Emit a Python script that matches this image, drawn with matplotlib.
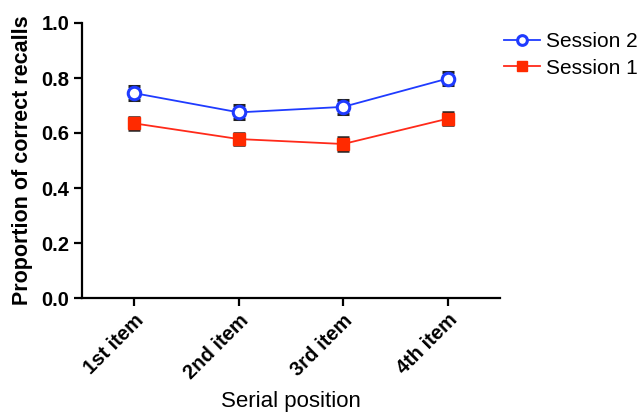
import matplotlib
matplotlib.use('Agg')
import matplotlib.pyplot as plt
import numpy as np

plt.rcParams['font.family'] = ['Liberation Sans', 'DejaVu Sans']

positions = ['1st item', '2nd item', '3rd item', '4th item']
session2 = [0.745, 0.675, 0.695, 0.798]
session2_err = [0.026, 0.025, 0.025, 0.025]
session1 = [0.635, 0.578, 0.560, 0.652]
session1_err = [0.024, 0.023, 0.024, 0.024]

fig = plt.figure(figsize=(6.44, 4.15), dpi=100)
ax = fig.add_axes([82 / 644, 117 / 415, 418 / 644, 275 / 415])

x = np.arange(len(positions))
ax.errorbar(x, session2, yerr=session2_err, color='#1f3bff', ecolor='#222222',
            elinewidth=1.5, capsize=4.5, capthick=1.8, marker='o', markersize=9,
            markerfacecolor='white', markeredgecolor='#1f3bff', markeredgewidth=2.2,
            linewidth=1.3, label='Session 2', zorder=3)
ax.errorbar(x, session1, yerr=session1_err, color='#ff2a1a', ecolor='#222222',
            elinewidth=1.5, capsize=4.5, capthick=1.8, marker='s', markersize=9,
            markerfacecolor='#ff2a00', markeredgecolor='#ff2a00',
            linewidth=1.3, label='Session 1', zorder=3)

ax.set_xlim(-0.5, 3.5)
ax.set_ylim(0, 1.0)
ax.set_yticks([0.0, 0.2, 0.4, 0.6, 0.8, 1.0])
ax.set_yticklabels(['0.0', '0.2', '0.4', '0.6', '0.8', '1.0'], fontweight='bold', fontsize=14.5)
ax.set_xticks(x)
ax.set_xticklabels(positions, rotation=45, ha='right', rotation_mode='anchor',
                   fontweight='bold', fontsize=14.5)
ax.spines['top'].set_visible(False)
ax.spines['right'].set_visible(False)
for s in ['left', 'bottom']:
    ax.spines[s].set_linewidth(1.6)
ax.tick_params(width=1.6, length=6, pad=3)
ax.set_xlabel('Serial position', fontsize=16, labelpad=6)
ax.set_ylabel('Proportion of correct recalls', fontweight='bold', fontsize=15.5, labelpad=6)

handles, labels = ax.get_legend_handles_labels()
leg = fig.legend([h[0] for h in handles], labels, loc='upper left',
                 bbox_to_anchor=(496 / 644, 1 - 24 / 415), frameon=False,
                 fontsize=15, handlelength=1.7, handletextpad=0.3, labelspacing=0.35,
                 borderaxespad=0)
for h in leg.legend_handles:
    h.set_markersize(7)

fig.savefig('out.png', dpi=100)
